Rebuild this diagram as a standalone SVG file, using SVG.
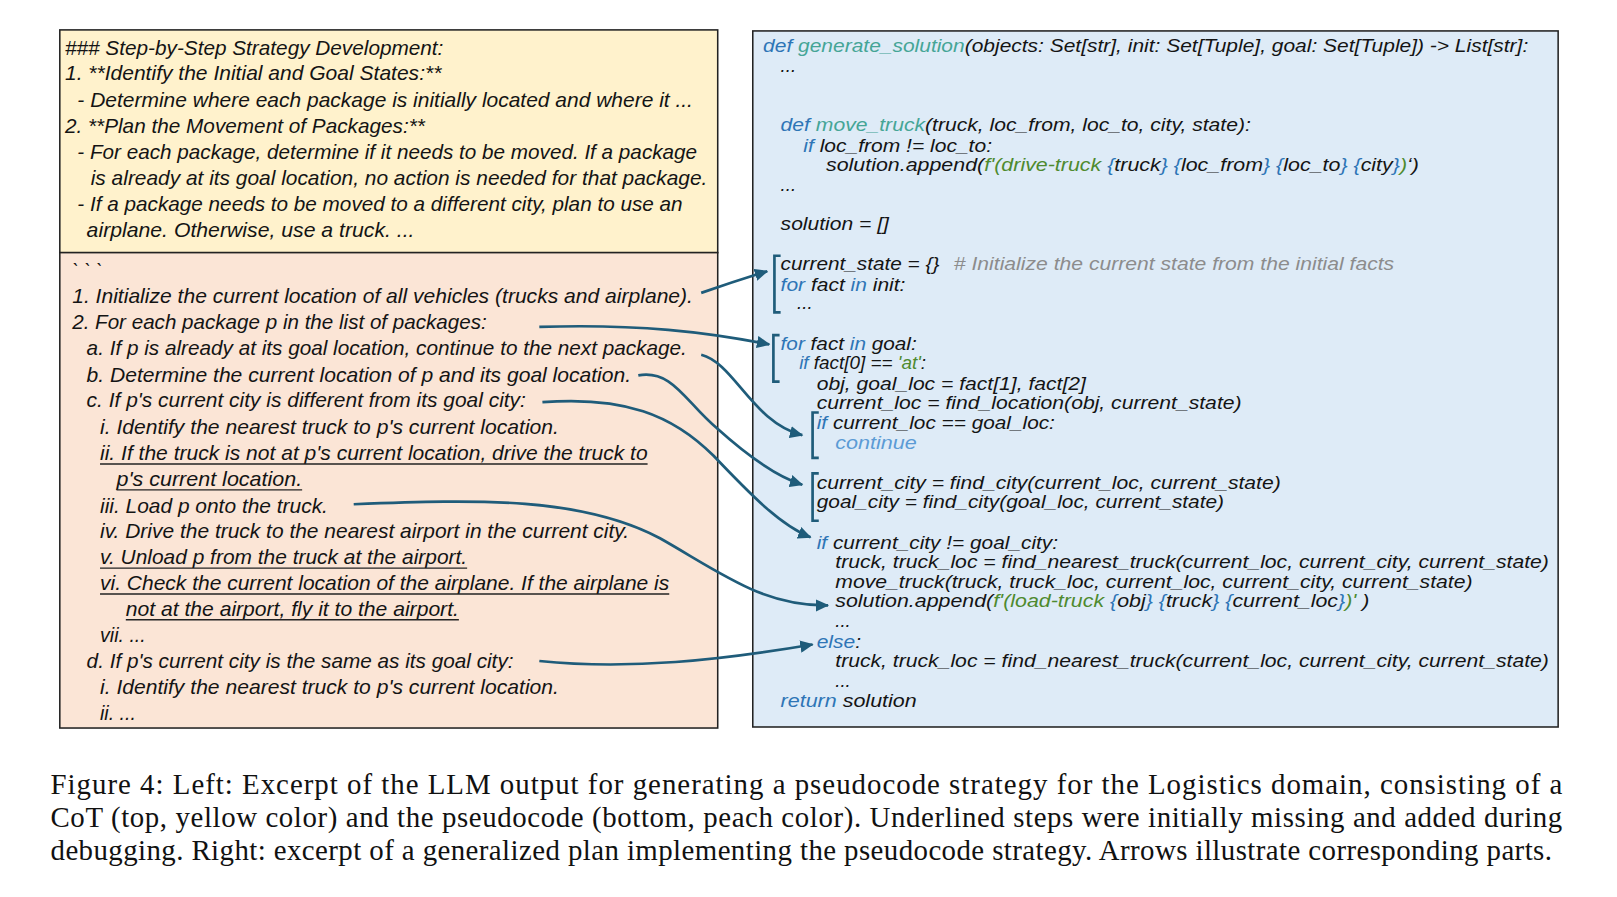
<svg xmlns="http://www.w3.org/2000/svg" width="1617" height="897" viewBox="0 0 1617 897">
<style>
.l{font-family:"Liberation Sans",Arial,sans-serif;font-style:italic;font-size:19px;fill:#141414}
.c{font-family:"Liberation Sans",Arial,sans-serif;font-style:italic;font-size:18px;fill:#141414}
.kw{fill:#2E75B6}
.fn{fill:#45A596}
.st{fill:#4E8A2E}
.br{fill:#2E75B6}
.ct{fill:#5B9BD5}
.cm{fill:#8C8C8C}
.cap{font-family:"Liberation Serif","Times New Roman",serif;font-size:28px;fill:#111}
.ul{stroke:#222;stroke-width:1.3}
.bk{fill:none;stroke:#1F5C7A;stroke-width:2.6}
.ar{fill:none;stroke:#1F5C7A;stroke-width:2.6}
</style>
<defs>
<marker id="ah" markerUnits="userSpaceOnUse" markerWidth="14" markerHeight="12" refX="12" refY="6" orient="auto">
<path d="M0,0 L13,6 L0,12 Z" fill="#1F5C7A"/>
</marker>
</defs>
<rect width="1617" height="897" fill="#fff"/>
<g transform="scale(1.0312)">
<g id="cot">
<rect x="58" y="29" width="638" height="216" fill="#FFF2CC" stroke="#222" stroke-width="1.5"/>
<text class="l" x="63" y="53" textLength="367" lengthAdjust="spacingAndGlyphs">### Step-by-Step Strategy Development:</text>
<text class="l" x="63" y="78" textLength="365" lengthAdjust="spacingAndGlyphs">1. **Identify the Initial and Goal States:**</text>
<text class="l" x="75" y="104" textLength="597" lengthAdjust="spacingAndGlyphs">- Determine where each package is initially located and where it ...</text>
<text class="l" x="63" y="129" textLength="349" lengthAdjust="spacingAndGlyphs">2. **Plan the Movement of Packages:**</text>
<text class="l" x="75" y="154" textLength="601" lengthAdjust="spacingAndGlyphs">- For each package, determine if it needs to be moved. If a package</text>
<text class="l" x="88" y="179" textLength="598" lengthAdjust="spacingAndGlyphs">is already at its goal location, no action is needed for that package.</text>
<text class="l" x="75" y="205" textLength="587" lengthAdjust="spacingAndGlyphs">- If a package needs to be moved to a different city, plan to use an</text>
<text class="l" x="84" y="230" textLength="318" lengthAdjust="spacingAndGlyphs">airplane. Otherwise, use a truck.  ...</text>
</g>
<g id="pseudocode">
<rect x="58" y="245" width="638" height="461" fill="#FBE5D6" stroke="#222" stroke-width="1.5"/>
<text class="l" x="70" y="270">` ` `</text>
<text class="l" x="70" y="294" textLength="602" lengthAdjust="spacingAndGlyphs">1. Initialize the current location of all vehicles (trucks and airplane).</text>
<text class="l" x="70" y="319" textLength="402" lengthAdjust="spacingAndGlyphs">2. For each package p in the list of packages:</text>
<text class="l" x="84" y="344" textLength="582" lengthAdjust="spacingAndGlyphs">a. If p is already at its goal location, continue to the next package.</text>
<text class="l" x="84" y="370" textLength="528" lengthAdjust="spacingAndGlyphs">b. Determine the current location of p and its goal location.</text>
<text class="l" x="84" y="395" textLength="426" lengthAdjust="spacingAndGlyphs">c. If p's current city is different from its goal city:</text>
<text class="l" x="97" y="421" textLength="445" lengthAdjust="spacingAndGlyphs">i. Identify the nearest truck to p's current location.</text>
<text class="l" x="97" y="446" textLength="531" lengthAdjust="spacingAndGlyphs">ii. If the truck is not at p's current location, drive the truck to</text>
<line class="ul" x1="97" y1="450" x2="628" y2="450"/>
<text class="l" x="113" y="471" textLength="180" lengthAdjust="spacingAndGlyphs">p's current location.</text>
<line class="ul" x1="113" y1="475" x2="293" y2="475"/>
<text class="l" x="97" y="497" textLength="221" lengthAdjust="spacingAndGlyphs">iii. Load p onto the truck.</text>
<text class="l" x="97" y="522" textLength="513" lengthAdjust="spacingAndGlyphs">iv. Drive the truck to the nearest airport in the current city.</text>
<text class="l" x="97" y="547" textLength="356" lengthAdjust="spacingAndGlyphs">v. Unload p from the truck at the airport.</text>
<line class="ul" x1="97" y1="551" x2="453" y2="551"/>
<text class="l" x="97" y="572" textLength="552" lengthAdjust="spacingAndGlyphs">vi. Check the current location of the airplane. If the airplane is</text>
<line class="ul" x1="97" y1="576" x2="649" y2="576"/>
<text class="l" x="122" y="597" textLength="323" lengthAdjust="spacingAndGlyphs">not at the airport, fly it to the airport.</text>
<line class="ul" x1="122" y1="601" x2="445" y2="601"/>
<text class="l" x="97" y="623">vii. ...</text>
<text class="l" x="84" y="648" textLength="414" lengthAdjust="spacingAndGlyphs">d. If p's current city is the same as its goal city:</text>
<text class="l" x="97" y="673" textLength="445" lengthAdjust="spacingAndGlyphs">i. Identify the nearest truck to p's current location.</text>
<text class="l" x="97" y="698">ii. ...</text>
</g>
<g id="code">
<rect x="730" y="30" width="781" height="675" fill="#DEEBF7" stroke="#222" stroke-width="1.5"/>
<text class="c" x="740" y="50" textLength="742" lengthAdjust="spacingAndGlyphs"><tspan class="kw">def</tspan> <tspan class="fn">generate_solution</tspan>(objects: Set[str], init: Set[Tuple], goal: Set[Tuple]) -&gt; List[str]:</text>
<text class="c" x="757" y="70">...</text>
<text class="c" x="757" y="127" textLength="456" lengthAdjust="spacingAndGlyphs"><tspan class="kw">def</tspan> <tspan class="fn">move_truck</tspan>(truck, loc_from, loc_to, city, state):</text>
<text class="c" x="779" y="147" textLength="183" lengthAdjust="spacingAndGlyphs"><tspan class="kw">if</tspan> loc_from != loc_to:</text>
<text class="c" x="801" y="166" textLength="575" lengthAdjust="spacingAndGlyphs">solution.append(<tspan class="st">f'(drive-truck </tspan><tspan class="br">{</tspan>truck<tspan class="br">}</tspan> <tspan class="br">{</tspan>loc_from<tspan class="br">}</tspan> <tspan class="br">{</tspan>loc_to<tspan class="br">}</tspan> <tspan class="br">{</tspan>city<tspan class="br">}</tspan><tspan class="st">)</tspan>‘)</text>
<text class="c" x="757" y="185">...</text>
<text class="c" x="757" y="223" textLength="105" lengthAdjust="spacingAndGlyphs">solution = []</text>
<text class="c" x="757" y="262" textLength="154" lengthAdjust="spacingAndGlyphs">current_state = {}</text>
<text class="c cm" x="925" y="262" textLength="427" lengthAdjust="spacingAndGlyphs"># Initialize the current state from the initial facts</text>
<text class="c" x="757" y="282" textLength="121" lengthAdjust="spacingAndGlyphs"><tspan class="kw">for</tspan> fact <tspan class="kw">in</tspan> init:</text>
<text class="c" x="773" y="300">...</text>
<text class="c" x="757" y="339" textLength="132" lengthAdjust="spacingAndGlyphs"><tspan class="kw">for</tspan> fact <tspan class="kw">in</tspan> goal:</text>
<text class="c" x="775" y="358" textLength="123" lengthAdjust="spacingAndGlyphs"><tspan class="kw">if</tspan> fact[0] == <tspan class="st">'at'</tspan>:</text>
<text class="c" x="792" y="378" textLength="261" lengthAdjust="spacingAndGlyphs">obj, goal_loc = fact[1], fact[2]</text>
<text class="c" x="792" y="397" textLength="412" lengthAdjust="spacingAndGlyphs">current_loc = find_location(obj, current_state)</text>
<text class="c" x="792" y="416" textLength="231" lengthAdjust="spacingAndGlyphs"><tspan class="kw">if</tspan> current_loc == goal_loc:</text>
<text class="c ct" x="810" y="435" textLength="79" lengthAdjust="spacingAndGlyphs">continue</text>
<text class="c" x="792" y="474" textLength="450" lengthAdjust="spacingAndGlyphs">current_city = find_city(current_loc, current_state)</text>
<text class="c" x="792" y="493" textLength="395" lengthAdjust="spacingAndGlyphs">goal_city = find_city(goal_loc, current_state)</text>
<text class="c" x="792" y="532" textLength="234" lengthAdjust="spacingAndGlyphs"><tspan class="kw">if</tspan> current_city != goal_city:</text>
<text class="c" x="810" y="551" textLength="692" lengthAdjust="spacingAndGlyphs">truck, truck_loc = find_nearest_truck(current_loc, current_city, current_state)</text>
<text class="c" x="810" y="570" textLength="618" lengthAdjust="spacingAndGlyphs">move_truck(truck, truck_loc, current_loc, current_city, current_state)</text>
<text class="c" x="810" y="589" textLength="518" lengthAdjust="spacingAndGlyphs">solution.append(<tspan class="st">f'(load-truck </tspan><tspan class="br">{</tspan>obj<tspan class="br">}</tspan> <tspan class="br">{</tspan>truck<tspan class="br">}</tspan> <tspan class="br">{</tspan>current_loc<tspan class="br">}</tspan><tspan class="st">)'</tspan> )</text>
<text class="c" x="810" y="608">...</text>
<text class="c" x="792" y="628" textLength="43" lengthAdjust="spacingAndGlyphs"><tspan class="kw">else</tspan>:</text>
<text class="c" x="810" y="647" textLength="692" lengthAdjust="spacingAndGlyphs">truck, truck_loc = find_nearest_truck(current_loc, current_city, current_state)</text>
<text class="c" x="810" y="666">...</text>
<text class="c" x="757" y="686" textLength="132" lengthAdjust="spacingAndGlyphs"><tspan class="kw">return</tspan> solution</text>
</g>
<g id="brackets">
<path class="bk" d="M757,248 H751 V303 H757"/>
<path class="bk" d="M756,325 H750 V370 H756"/>
<path class="bk" d="M794,400 H788 V444 H794"/>
<path class="bk" d="M794,459 H788 V505 H794"/>
</g>
<g id="connectors">
<path class="ar" d="M680,284 Q712,273 744,263" marker-end="url(#ah)"/>
<path class="ar" d="M523,317 C620,314 685,322 746,334" marker-end="url(#ah)"/>
<path class="ar" d="M680,344 C712,352 730,410 778,422" marker-end="url(#ah)"/>
<path class="ar" d="M619,364 C652,358 665,390 695,415 C725,442 752,462 778,470" marker-end="url(#ah)"/>
<path class="ar" d="M526,390 C605,384 652,402 692,442 C730,482 758,510 786,521" marker-end="url(#ah)"/>
<path class="ar" d="M343,489 C465,484 565,482 640,522 C700,556 740,588 803,587" marker-end="url(#ah)"/>
<path class="ar" d="M523,641 C610,650 700,640 788,625" marker-end="url(#ah)"/>
</g>
<g id="caption">
<text class="cap" x="49" y="770" textLength="1466" lengthAdjust="spacing">Figure 4: Left: Excerpt of the LLM output for generating a pseudocode strategy for the Logistics domain, consisting of a</text>
<text class="cap" x="49" y="802" textLength="1466" lengthAdjust="spacing">CoT (top, yellow color) and the pseudocode (bottom, peach color). Underlined steps were initially missing and added during</text>
<text class="cap" x="49" y="834" textLength="1456" lengthAdjust="spacing">debugging. Right: excerpt of a generalized plan implementing the pseudocode strategy. Arrows illustrate corresponding parts.</text>
</g>
</g>
</svg>
